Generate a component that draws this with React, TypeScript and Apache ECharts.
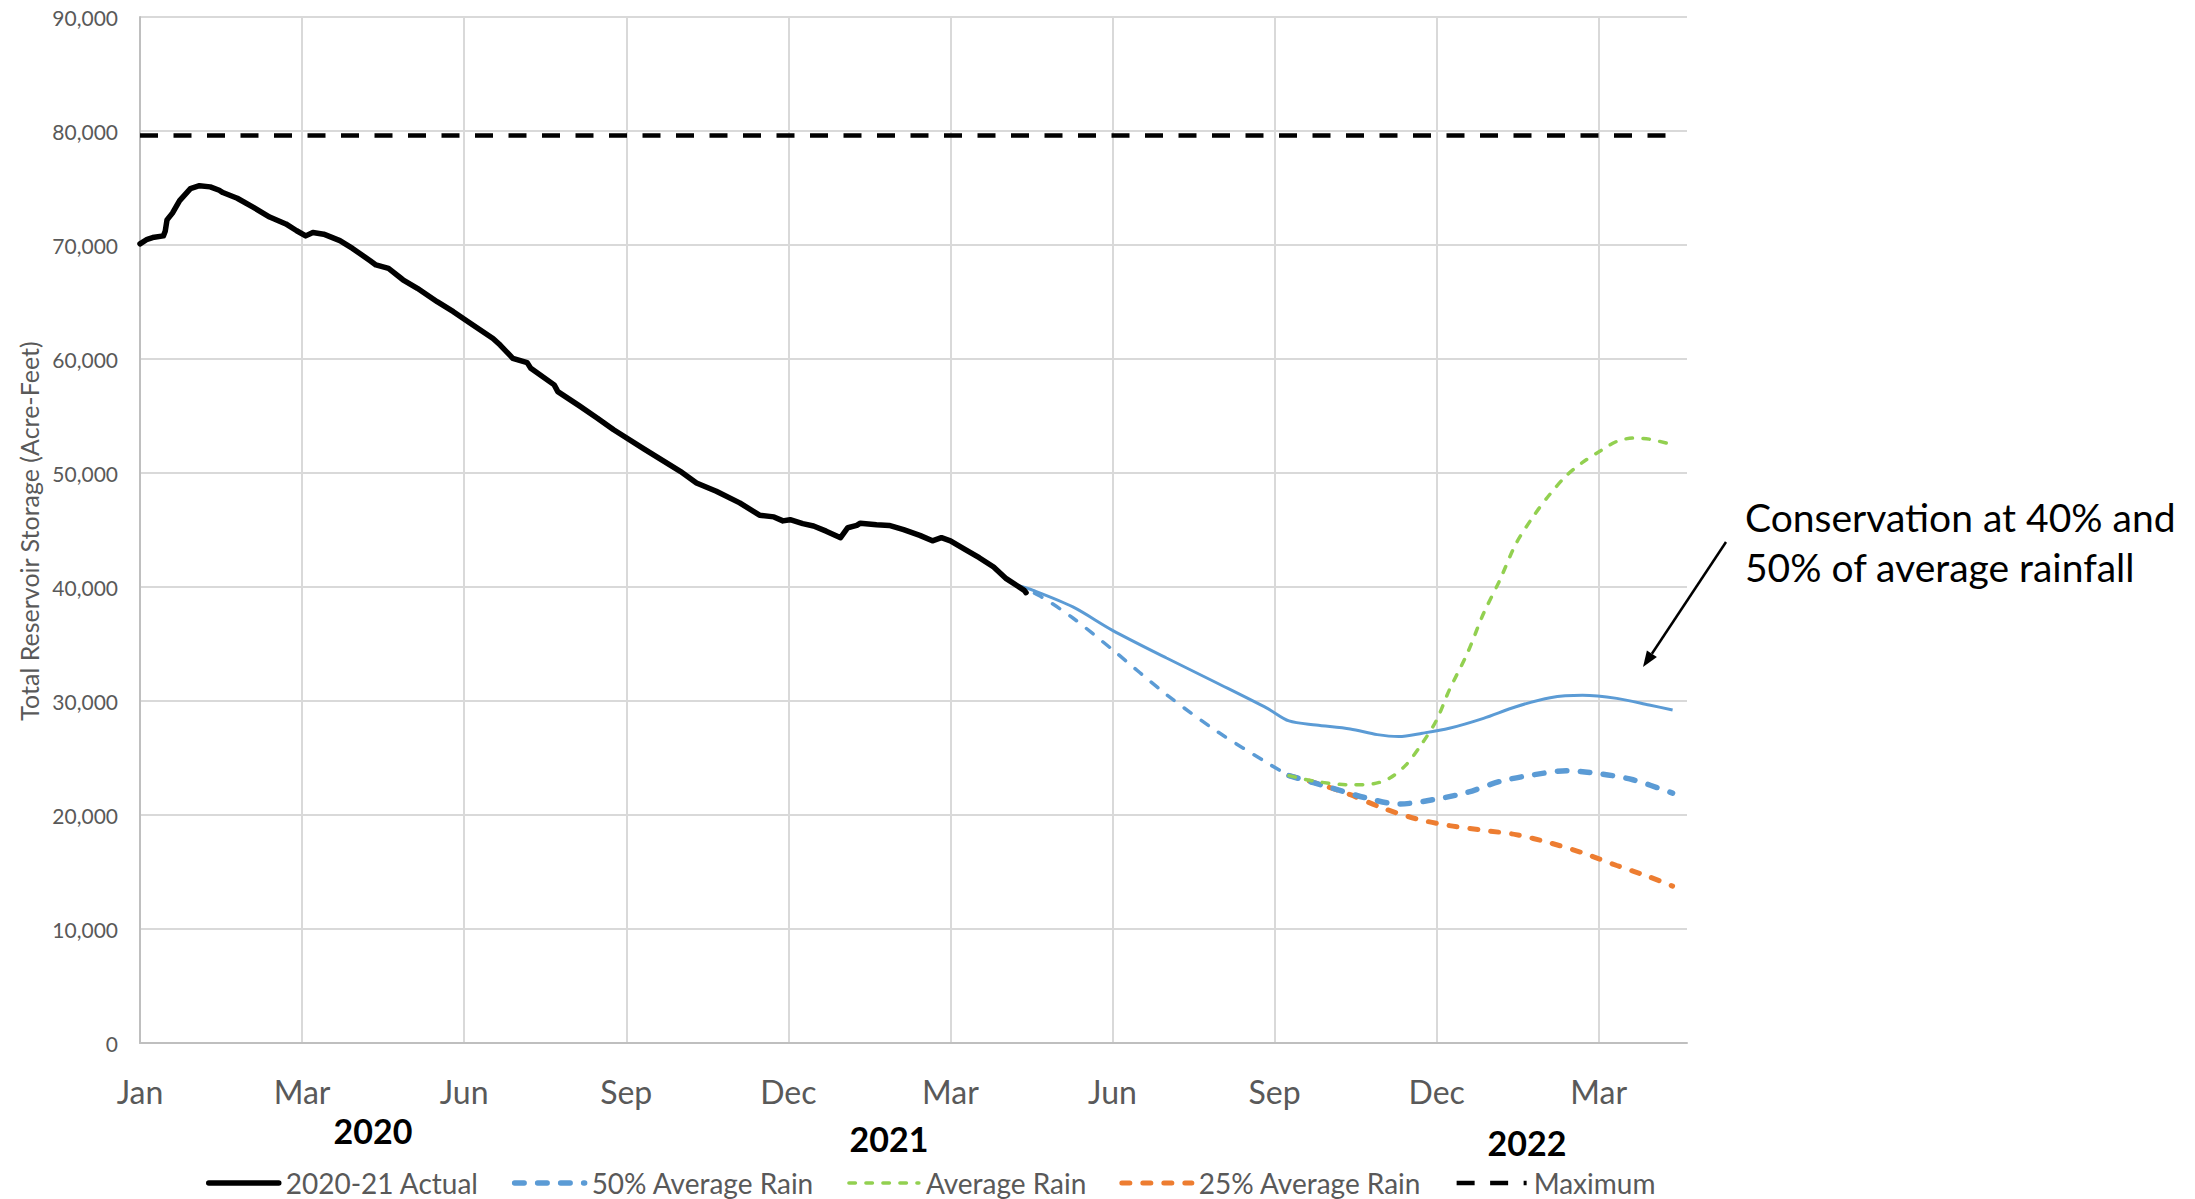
import React, { useEffect, useRef } from 'react';
import * as echarts from 'echarts';

// x values are days since 2020-01-01
const actualDays = [0, 4, 7, 13, 14, 15, 18, 22, 28, 33, 39, 44, 46, 54, 63, 72, 81, 87, 92, 96, 102, 111, 118, 128, 131, 138, 146, 154, 165, 174, 183, 196, 200, 207, 215, 217, 230, 232, 244, 254, 263, 280, 300, 309, 320, 333, 344, 352, 357, 361, 368, 374, 381, 389, 393, 398, 400, 409, 416, 424, 433, 440, 445, 450, 459, 466, 474, 481, 491, 492];
const actualValues = [70100, 70500, 70650, 70800, 71200, 72200, 72800, 73900, 74950, 75200, 75100, 74800, 74600, 74100, 73300, 72450, 71850, 71250, 70800, 71100, 70950, 70380, 69700, 68600, 68250, 67950, 66950, 66200, 65030, 64150, 63180, 61800, 61220, 60060, 59680, 59180, 57730, 57140, 55890, 54810, 53790, 52100, 50150, 49130, 48400, 47380, 46300, 46150, 45800, 45900, 45560, 45350, 44900, 44330, 45200, 45400, 45600, 45470, 45400, 45030, 44530, 44050, 44330, 44050, 43220, 42570, 41750, 40730, 39700, 39500];

const conservationDays = [486, 496, 518, 540, 570, 598, 626, 638, 653, 672, 687, 699, 712, 727, 746, 764, 783, 801, 820, 838, 851];
const conservationValues = [40200, 39700, 38250, 36200, 33770, 31580, 29350, 28250, 27900, 27550, 27050, 26880, 27170, 27610, 28480, 29500, 30290, 30500, 30230, 29650, 29210];

const half1Days = [486, 500, 518, 540, 570, 598, 626, 638];
const half1Values = [40200, 39180, 37280, 34500, 30560, 27340, 24560, 23450];

const half2Days = [638, 662, 681, 699, 718, 737, 755, 774, 792, 811, 829, 851];
const half2Values = [23450, 22360, 21490, 20960, 21340, 21980, 22940, 23530, 23880, 23610, 23090, 21920];

const avgDays = [638, 653, 672, 685, 694, 703, 712, 720, 727, 737, 746, 755, 764, 774, 783, 792, 801, 811, 820, 829, 838, 851];
const avgValues = [23450, 22940, 22650, 22740, 23240, 24400, 26300, 28340, 30960, 34170, 37670, 40580, 43790, 46270, 48160, 49770, 50930, 51950, 52770, 53060, 52970, 52480];

const quarterDays = [638, 653, 672, 690, 709, 727, 746, 764, 783, 801, 820, 838, 851];
const quarterValues = [23450, 22800, 21780, 20610, 19650, 19070, 18660, 18280, 17550, 16680, 15570, 14580, 13760];

const maxDays = [0, 849];
const maxValues = [79600, 79600];

const legendNames = ['2020-21 Actual', '50% Average Rain', 'Average Rain', '25% Average Rain', 'Maximum'];
const monthNames = ['Jan', 'Feb', 'Mar', 'Apr', 'May', 'Jun', 'Jul', 'Aug', 'Sep', 'Oct', 'Nov', 'Dec'];
const yearLabels = ['2020', '2021', '2022'];

const FONT = 'Lato, "Open Sans", sans-serif';
const GRAY = '#595959';

const zip = (xs: number[], ys: number[]) => xs.map((x, i) => [x, ys[i]]);

export default function App() {
  const ref = useRef<HTMLDivElement>(null);
  useEffect(() => {
    const chart = echarts.init(ref.current!, null, { renderer: 'svg' });
    const option: any = {
      animation: false,
      backgroundColor: '#ffffff',
      grid: { left: 140, right: 508, top: 17, bottom: 156, containLabel: false },
      xAxis: {
        type: 'value',
        min: 0,
        max: 859,
        interval: 90,
        axisLine: { show: true, lineStyle: { color: '#bfbfbf', width: 2 } },
        axisTick: { show: false },
        splitLine: { show: true, showMaxLine: false, lineStyle: { color: '#d9d9d9', width: 2 } },
        axisLabel: {
          showMaxLabel: false,
          margin: 32,
          color: GRAY,
          fontFamily: FONT,
          fontSize: 32,
          formatter: (v: number) => {
            if (v % 90 !== 0) return '';
            const d = new Date(Date.UTC(2020, 0, 1) + v * 86400000);
            return monthNames[d.getUTCMonth()];
          },
        },
      },
      yAxis: {
        type: 'value',
        min: 0,
        max: 90000,
        interval: 10000,
        axisLine: { show: true, lineStyle: { color: '#bfbfbf', width: 2 } },
        axisTick: { show: false },
        splitLine: { show: true, lineStyle: { color: '#d9d9d9', width: 2 } },
        axisLabel: {
          margin: 22,
          color: GRAY,
          fontFamily: FONT,
          fontSize: 21,
          formatter: (v: number) => v.toLocaleString('en-US'),
        },
      },
      legend: {
        data: legendNames,
        left: 206,
        top: 1169,
        padding: 0,
        itemWidth: 70,
        itemHeight: 22,
        itemGap: 33,
        itemStyle: { opacity: 0, borderWidth: 0 },
        lineStyle: { width: 'inherit', type: 'inherit', cap: 'inherit' },
        textStyle: { color: GRAY, fontFamily: FONT, fontSize: 28, padding: [0, 0, 0, 2] },
      },
      graphic: [
        {
          type: 'text',
          x: 29,
          y: 531,
          rotation: Math.PI / 2,
          style: { text: 'Total Reservoir Storage (Acre-Feet)', fill: GRAY, font: `25px ${FONT}`, textAlign: 'center', textVerticalAlign: 'middle' },
        },
        { type: 'text', x: 373, y: 1130, style: { text: yearLabels[0], fill: '#000', font: `bold 34px ${FONT}`, textAlign: 'center', textVerticalAlign: 'middle' } },
        { type: 'text', x: 889, y: 1138, style: { text: yearLabels[1], fill: '#000', font: `bold 34px ${FONT}`, textAlign: 'center', textVerticalAlign: 'middle' } },
        { type: 'text', x: 1527, y: 1142, style: { text: yearLabels[2], fill: '#000', font: `bold 34px ${FONT}`, textAlign: 'center', textVerticalAlign: 'middle' } },
        { type: 'text', x: 1745, y: 517, style: { text: 'Conservation at 40% and', fill: '#000', font: `39px ${FONT}`, textAlign: 'left', textVerticalAlign: 'middle' } },
        { type: 'text', x: 1745, y: 567, style: { text: '50% of average rainfall', fill: '#000', font: `39px ${FONT}`, textAlign: 'left', textVerticalAlign: 'middle' } },
        { type: 'line', shape: { x1: 1726, y1: 542, x2: 1651.9, y2: 653.7 }, style: { stroke: '#000', lineWidth: 2.5 } },
        { type: 'polygon', shape: { points: [[1643, 667], [1656.9, 657.0], [1646.9, 650.4]] }, style: { fill: '#000' } },
      ],
      series: [
        {
          name: '2020-21 Actual',
          type: 'line',
          symbol: 'none',
          data: zip(actualDays, actualValues),
          lineStyle: { color: '#000', width: 5.5, join: 'round', cap: 'round' },
          itemStyle: { color: '#000' },
          z: 5,
        },
        {
          name: '50% Average Rain',
          type: 'line',
          symbol: 'none',
          smooth: 0.3,
          data: zip(half2Days, half2Values),
          lineStyle: { color: '#5b9bd5', width: 5.5, type: [9.5, 13.5], cap: 'round' },
          itemStyle: { color: '#5b9bd5' },
          z: 3,
        },
        {
          name: '50% Average Rain',
          type: 'line',
          symbol: 'none',
          smooth: 0.3,
          data: zip(half1Days, half1Values),
          lineStyle: { color: '#5b9bd5', width: 3.5, type: [8.5, 12.5], cap: 'round' },
          itemStyle: { color: '#5b9bd5' },
          z: 3,
        },
        {
          name: 'Average Rain',
          type: 'line',
          symbol: 'none',
          smooth: 0.3,
          data: zip(avgDays, avgValues),
          lineStyle: { color: '#92d050', width: 3.5, type: [6.5, 10.5], cap: 'round' },
          itemStyle: { color: '#92d050' },
          z: 3,
        },
        {
          name: '25% Average Rain',
          type: 'line',
          symbol: 'none',
          smooth: 0.3,
          data: zip(quarterDays, quarterValues),
          lineStyle: { color: '#ed7d31', width: 5, type: [8, 13], cap: 'round' },
          itemStyle: { color: '#ed7d31' },
          z: 2,
        },
        {
          name: 'Conservation',
          type: 'line',
          symbol: 'none',
          smooth: 0.3,
          data: zip(conservationDays, conservationValues),
          lineStyle: { color: '#5b9bd5', width: 3 },
          itemStyle: { color: '#5b9bd5' },
          z: 4,
        },
        {
          name: 'Maximum',
          type: 'line',
          symbol: 'none',
          data: zip(maxDays, maxValues),
          lineStyle: { color: '#000', width: 4.5, type: [18, 15.5] },
          itemStyle: { color: '#000' },
          z: 4,
        },
      ],
    };
    chart.setOption(option);
    return () => chart.dispose();
  }, []);
  return (
    <div
      ref={ref}
      style={{ position: 'fixed', left: 0, top: 0, width: 2195, height: 1199, background: '#fff' }}
    />
  );
}
